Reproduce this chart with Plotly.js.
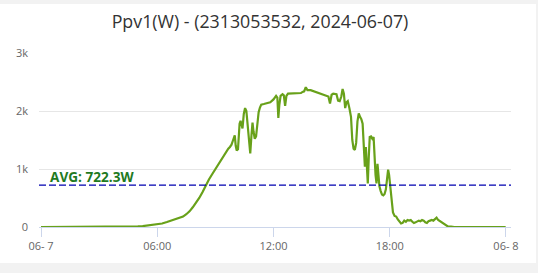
<!DOCTYPE html>
<html>
<head>
<meta charset="utf-8">
<script src="https://cdn.plot.ly/plotly-3.0.1.min.js"></script>
<style>
html,body{margin:0;padding:0;background:#f2f2f2;width:538px;height:273px;overflow:hidden;}
#chart{position:absolute;left:0;top:4px;width:536px;height:259px;background:#fff;}
</style>
</head>
<body>
<div id="chart"></div>
<script>
const day = "2024-06-07";
const times = ["00:00","04:30","04:45","05:00","05:15","05:30","05:45","06:00","06:15","06:30","06:45","07:00","07:10","07:20","07:30","07:40","07:50","08:00","08:10","08:20","08:30","08:40","08:50","09:00","09:10","09:20","09:30","09:40","09:45","09:50","09:55","10:00","10:03","10:06","10:10","10:15","10:18","10:21","10:24","10:28","10:32","10:36","10:40","10:44","10:48","10:52","10:55","10:58","11:02","11:06","11:10","11:14","11:18","11:22","11:30","11:40","11:50","12:00","12:08","12:12","12:15","12:18","12:22","12:28","12:32","12:36","12:40","12:45","12:55","13:05","13:15","13:25","13:30","13:35","13:40","13:45","13:55","14:05","14:15","14:25","14:35","14:45","14:50","14:55","15:00","15:05","15:15","15:20","15:25","15:30","15:34","15:38","15:42","15:46","15:50","15:55","16:00","16:04","16:08","16:12","16:16","16:20","16:24","16:28","16:32","16:36","16:40","16:43","16:46","16:49","16:52","16:55","16:58","17:02","17:06","17:10","17:13","17:16","17:19","17:22","17:25","17:28","17:32","17:36","17:40","17:44","17:48","17:52","17:55","17:58","18:02","18:06","18:10","18:15","18:20","18:25","18:30","18:35","18:40","18:45","18:50","18:55","19:00","19:05","19:10","19:15","19:20","19:25","19:30","19:35","19:40","19:45","19:50","19:55","20:00","20:05","20:10","20:15","20:20","20:25","20:30","20:35","20:40","20:45","20:50","20:55","21:00","21:10","21:20","23:59"];
const ppv1 = [0,0,5,10,15,25,35,45,60,85,110,135,155,180,220,270,340,410,500,600,720,820,910,1000,1090,1180,1270,1350,1380,1420,1500,1580,1400,1320,1340,1780,1830,1780,1700,1950,2050,2000,1700,1400,1270,1600,1800,1650,1520,1560,1800,1980,2060,2110,2120,2130,2150,2200,2260,2230,1880,2100,2260,2290,2270,2090,2260,2300,2300,2310,2300,2310,2330,2340,2410,2360,2360,2340,2330,2310,2290,2270,2250,2130,2280,2300,2290,2180,2170,2250,2380,2300,2050,2150,2170,2050,1900,1500,1350,1330,1450,1820,1960,1900,1860,1780,1400,1040,1380,1100,750,1200,1550,1560,1520,1550,1100,900,750,1090,900,700,620,560,545,570,650,850,990,900,650,380,250,190,180,130,90,60,70,110,90,120,110,120,90,70,80,100,110,100,120,110,80,70,100,110,120,110,140,160,120,100,80,60,40,20,10,5,0,0];
const avgValue = 722.3;
const tickVals = ["2024-06-07 00:00","2024-06-07 06:00","2024-06-07 12:00","2024-06-07 18:00","2024-06-08 00:00"];
const tickText = ["06- 7","06:00","12:00","18:00","06- 8"];
const yTickVals = [0,1000,2000,3000];
const yTickText = ["0","1k","2k","3k"];
const titleText = "Ppv1(W) - (2313053532, 2024-06-07)";

const xs = times.map(t => day + " " + t);

const trace = {
  x: xs, y: ppv1, type: "scatter", mode: "lines",
  line: {color: "#68a11a", width: 2.2},
  hoverinfo: "skip"
};

const font = "Open Sans, DejaVu Sans, sans-serif";
const layout = {
  width: 536, height: 259,
  margin: {l: 39, r: 25, t: 49, b: 36},
  paper_bgcolor: "#ffffff", plot_bgcolor: "#ffffff",
  showlegend: false,
  title: {text: titleText, font: {family: font, size: 17.8, color: "#333333"}, xref: "container", x: 260/536, xanchor: "center", yref: "container", y: 1 - 17.5/259, yanchor: "middle"},
  xaxis: {
    type: "date",
    range: ["2024-06-06 23:53:48", "2024-06-08 00:15:30"],
    tickvals: tickVals, ticktext: tickText,
    showgrid: false, zeroline: false,
    showline: true, linecolor: "#ccd6eb", linewidth: 1,
    ticks: "outside", ticklen: 9, tickcolor: "#ccd6eb", tickwidth: 1,
    tickfont: {family: font, size: 11, color: "#666666"}
  },
  yaxis: {
    range: [0, 3000],
    tickvals: yTickVals, ticktext: yTickText,
    showgrid: true, gridcolor: "#e6e6e6", gridwidth: 1,
    zeroline: false, showline: false, ticks: "",
    ticklabelstandoff: 10,
    tickfont: {family: font, size: 11, color: "#666666"}
  },
  shapes: [{
    type: "line", xref: "paper", x0: 0, x1: 1, yref: "y", y0: avgValue, y1: avgValue,
    line: {color: "#0000b0", width: 1.2, dash: "7px,3px"}
  }],
  annotations: [{
    xref: "paper", x: 0, xshift: 9, xanchor: "left",
    yref: "y", y: avgValue, yshift: -3, yanchor: "bottom",
    text: "<b>AVG: 722.3W</b>", showarrow: false,
    font: {family: font, size: 13.6, color: "#1f7a1f"}
  }]
};

Plotly.newPlot("chart", [trace], layout, {displayModeBar: false, staticPlot: true});
</script>
</body>
</html>
